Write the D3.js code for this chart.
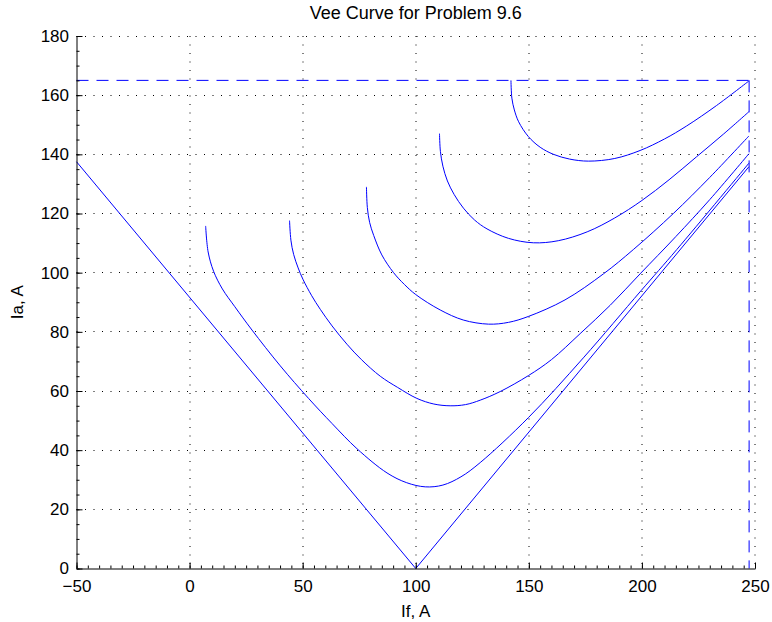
<!DOCTYPE html>
<html>
<head>
<meta charset="utf-8">
<script src="https://cdn.jsdelivr.net/npm/d3@7"></script>
<style>
  body { margin: 0; background: #fff; }
  svg { font-family: "Liberation Sans", Arial, sans-serif; }
</style>
</head>
<body>
<div id="chart"></div>
<script>
// [If, Ia] pairs, one list per load level
const noLoad = [[-50, 137.5], [100, 0], [247.3, 135.8]];
const load1 = [[7.1, 115.8], [8.2, 107], [10.6, 100.5], [14.5, 94.5], [20, 88.5], [27.6, 80.6],
    [40.1, 68.5], [52.6, 57.5], [63, 49], [74, 40.5], [87.3, 32.3], [96, 29], [104.2, 27.6],
    [112, 28.2], [120, 31], [128.5, 35.8], [149.8, 51], [174.1, 71.2], [199.6, 93.9],
    [215.4, 107.8], [247.3, 137]];
const load2 = [[44.2, 117.6], [44.8, 111], [46, 106.2], [48, 101.6], [50.1, 97.8], [54, 92.2],
    [57.8, 87.6], [63, 82], [69.6, 75.8], [76, 70.6], [84.3, 65], [92, 61.2], [100.5, 57.5],
    [108, 55.6], [115.2, 55], [122, 55.4], [128.5, 56.9], [137.3, 59.8], [149.8, 65.2],
    [160, 70.6], [172.7, 79.4], [186, 89], [199.2, 99.6], [215, 112.2], [230, 124.7], [247.3, 140.2]];
const load3 = [[78.2, 129], [78.6, 122], [79.6, 117], [81.4, 112.6], [85, 106], [90.2, 100],
    [95, 96], [100, 92.6], [110.8, 87.4], [121, 84], [132.2, 82.6], [141, 83.2], [149.8, 85.2],
    [166, 90.8], [183, 99.6], [196.2, 107.8], [213.9, 120], [230, 132.2], [247.3, 146.2]];
const load4 = [[110.5, 147], [110.9, 141], [112, 136], [114, 131], [117, 126.4], [121.1, 121.8],
    [126, 117.8], [131.5, 114.8], [141, 111.6], [152, 110.1], [163, 110.8], [175.8, 113.8],
    [188, 118.5], [200, 124.4], [212, 131.4], [224.2, 139.2], [236, 146.8], [247.3, 154.4]];
const load5 = [[142.1, 165], [142.5, 159], [143.6, 155], [145.5, 151], [149.8, 146], [155, 142.4],
    [160.9, 140], [168, 138.4], [176.4, 137.7], [188, 138.6], [199.2, 141.3], [210, 145.2],
    [219.8, 149.6], [233, 156.5], [247.3, 164.8]];

// rated armature current and max field current (dashed limits)
const ratedIa = 165;
const maxIf = 247.4;

const xTicks = [-50, 0, 50, 100, 150, 200, 250];
const yTicks = [0, 20, 40, 60, 80, 100, 120, 140, 160, 180];

const width = 772, height = 622;
const margin = {top: 36, right: 17, bottom: 53.5, left: 76.5};
const plotW = width - margin.left - margin.right;
const plotH = height - margin.top - margin.bottom;

const svg = d3.select("#chart").append("svg")
    .attr("width", width)
    .attr("height", height);

const g = svg.append("g")
    .attr("transform", `translate(${margin.left}, ${margin.top})`);

const xScale = d3.scaleLinear().domain([-50, 250]).range([0, plotW]);
const yScale = d3.scaleLinear().domain([0, 180]).range([plotH, 0]);

// dotted grid on the major ticks
const snap = v => Math.round(v) + 0.5;
g.append("g").selectAll("line").data(xTicks.slice(1)).join("line")
    .attr("x1", d => snap(xScale(d) - 0.5)).attr("x2", d => snap(xScale(d) - 0.5))
    .attr("y1", 0).attr("y2", plotH)
    .attr("stroke", "#000").attr("stroke-dasharray", "1,7.5");
g.append("g").selectAll("line").data(yTicks.slice(1)).join("line")
    .attr("y1", d => snap(yScale(d) - 0.5)).attr("y2", d => snap(yScale(d) - 0.5))
    .attr("x1", 0).attr("x2", plotW)
    .attr("stroke", "#000").attr("stroke-dasharray", "1,7.5");

// the curves
const line = d3.line()
    .x(d => xScale(d[0]))
    .y(d => yScale(d[1]))
    .curve(d3.curveCatmullRom.alpha(0.5));

g.append("path").datum(noLoad)
    .attr("fill", "none").attr("stroke", "#0000ff").attr("stroke-width", 1)
    .attr("d", d3.line().x(d => xScale(d[0])).y(d => yScale(d[1])));

[load1, load2, load3, load4, load5].forEach(c => {
    g.append("path").datum(c)
        .attr("fill", "none").attr("stroke", "#0000ff").attr("stroke-width", 1)
        .attr("d", line);
});

// limits
g.append("line")
    .attr("x1", xScale(-50)).attr("x2", xScale(maxIf))
    .attr("y1", yScale(ratedIa)).attr("y2", yScale(ratedIa))
    .attr("stroke", "#0000ff").attr("stroke-dasharray", "12,8");
g.append("line")
    .attr("x1", xScale(maxIf)).attr("x2", xScale(maxIf))
    .attr("y1", yScale(ratedIa)).attr("y2", yScale(0))
    .attr("stroke", "#0000ff").attr("stroke-dasharray", "12,8");

// axes, ticks pointing inward
const xMinor = g.append("g")
    .attr("transform", `translate(0, ${plotH})`)
    .call(d3.axisBottom(xScale).tickValues(d3.range(-50, 251, 5)).tickSize(-3).tickFormat(""));
xMinor.select(".domain").remove();

const yMinor = g.append("g")
    .call(d3.axisLeft(yScale).tickValues(d3.range(0, 181, 5)).tickSize(-3).tickFormat(""));
yMinor.select(".domain").remove();

const xAxis = g.append("g")
    .attr("transform", `translate(0, ${plotH})`)
    .call(d3.axisBottom(xScale).tickValues(xTicks).tickSizeInner(-6).tickSizeOuter(0).tickPadding(11.5)
        .tickFormat(d => d < 0 ? "\u2212" + Math.abs(d) : d));

const yAxis = g.append("g")
    .call(d3.axisLeft(yScale).tickValues(yTicks).tickSizeInner(-6).tickSizeOuter(0).tickPadding(7.5));

[xAxis, yAxis, xMinor, yMinor].forEach(a => {
    a.selectAll("text").attr("fill", "#000").style("font-size", "17px")
        .style("font-family", "'Liberation Sans', Arial, sans-serif");
    a.selectAll("line").attr("stroke", "#000");
    a.select(".domain").attr("stroke", "#000");
});

// labels
svg.append("text")
    .attr("x", margin.left + plotW / 2).attr("y", 19)
    .attr("text-anchor", "middle")
    .style("font-size", "18px")
    .text("Vee Curve for Problem 9.6");

svg.append("text")
    .attr("x", margin.left + plotW / 2).attr("y", 617)
    .attr("text-anchor", "middle")
    .style("font-size", "17px")
    .text("If, A");

svg.append("text")
    .attr("transform", `translate(23, ${margin.top + plotH / 2}) rotate(-90)`)
    .attr("text-anchor", "middle")
    .style("font-size", "17px")
    .text("Ia, A");
</script>
</body>
</html>
